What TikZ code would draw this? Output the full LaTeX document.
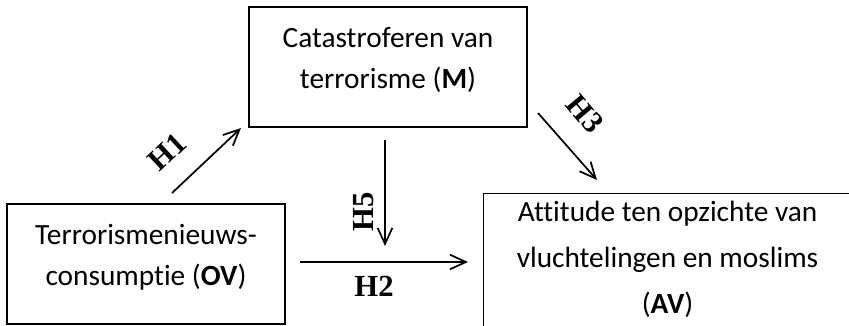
\documentclass[tikz,border=0pt]{standalone}
\usepackage{fontspec}
\setmainfont[Ligatures=CommonOff]{Carlito}
\newfontfamily\hypfont{Liberation Serif}
\usepackage{tikz}
\usetikzlibrary{arrows.meta}

\begin{document}
\begin{tikzpicture}[x=0.75pt, y=-0.75pt, >={Straight Barb[length=12pt,width=11pt]},
  every box/.style={draw, line width=0.8pt, align=center, inner sep=0pt,
    minimum width=208.5pt, minimum height=90pt, text depth=14pt,
    font=\fontsize{22pt}{30.75pt}\selectfont},
  every hyp/.style={inner sep=0pt, font=\hypfont\bfseries\fontsize{23pt}{27pt}\selectfont},
  every arrow/.style={->, line width=1.3pt}]

\useasboundingbox (0,0) rectangle (849,325);

% Definição das caixas.

\node [every box/.try] (m) at (388,67) {Catastroferen van\\terrorisme (\textbf{M})};
\node [every box/.try] (ov) at (146,264) {Terrorismenieuws-\\consumptie (\textbf{OV})};
\node [every box/.try, anchor=north west, minimum width=276pt, minimum height=110pt,
  font=\fontsize{22pt}{34.5pt}\selectfont]
  (av) at (483,193) {Attitude ten opzichte van\\vluchtelingen en moslims\\(\textbf{AV})};

% Definição das setas.

\foreach \n/\x/\y in {h1s/172/193, h1e/241/128, h5s/385/140, h5e/385/246,
                      h2s/300/262, h2e/468/262, h3s/538/113, h3e/597/180}
  \coordinate (\n) at (\x,\y);

\foreach \l in {1,5,2,3}
  \draw [every arrow/.try] (h\l s) -- (h\l e);

% Definição dos labels.

\foreach \l/\x/\y/\r in {1/167/152/43, 5/364/212/90, 2/374/286/0, 3/585/114/-50}
  \node [every hyp/.try, rotate=\r] (hyp-\l) at (\x,\y) {H\l};

\end{tikzpicture}
\end{document}
